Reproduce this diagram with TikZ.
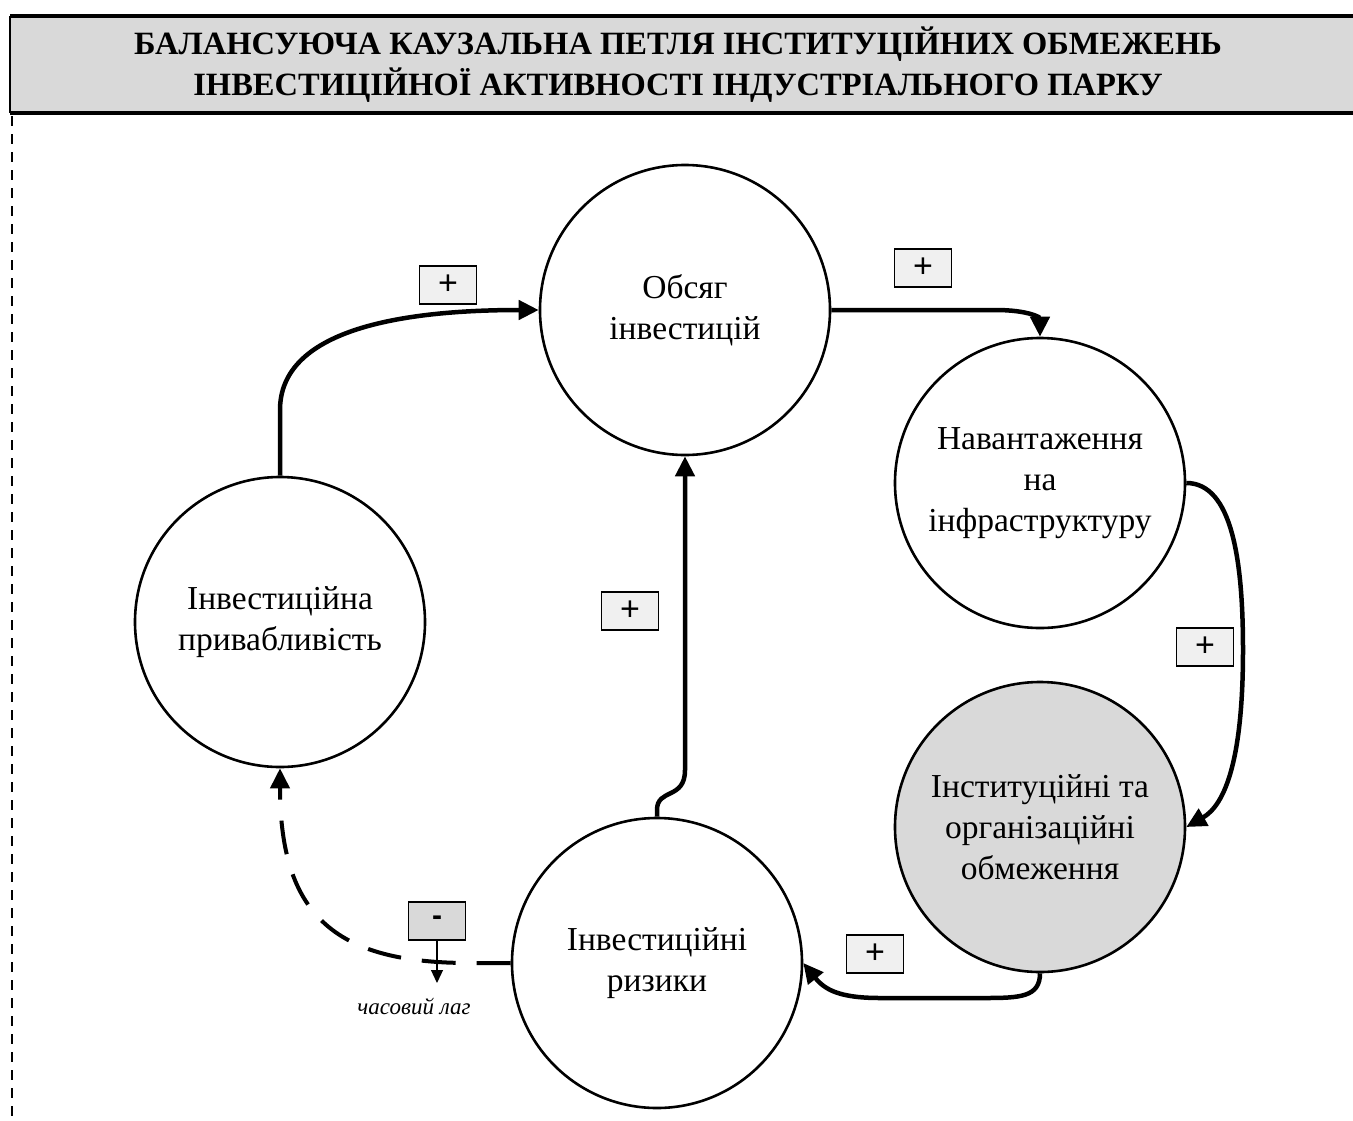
\documentclass[tikz,border=0pt]{standalone}
\usepackage{fontspec}
\setmainfont{Liberation Serif}
\newfontfamily\lsans{Liberation Sans}
\newfontfamily\titlefont{Liberation Serif}[BoldFont={Liberation Serif Bold}]
\usetikzlibrary{arrows.meta}
\definecolor{titlegray}{HTML}{D9D9D9}
\definecolor{instgray}{HTML}{D9D9D9}
\definecolor{plusfill}{HTML}{F0F0F0}
\begin{document}
\begin{tikzpicture}[x=1pt,y=-1pt,
  circ/.style={circle, draw, line width=2.6pt, minimum size=290pt, inner sep=0pt, align=center,
    font=\fontsize{33.5}{41}\selectfont},
  link/.style={line width=4.5pt, -{Triangle[length=20pt,width=19pt]}},
  dlink/.style={line width=4pt, dash pattern=on 34pt off 21pt, -{Triangle[length=20pt,width=19pt]}},
  signbox/.style={draw, line width=1.3pt, fill=plusfill, minimum width=57pt, minimum height=38pt, inner sep=0pt,
    font=\lsans\fontsize{34}{34}\selectfont},
  negbox/.style={signbox, fill=titlegray, font=\lsans\bfseries\fontsize{30}{30}\selectfont}
]
\useasboundingbox (0,0) rectangle (1353,1120);
% title bar
\fill[titlegray] (10,16) rectangle (1360,113);
\draw[line width=3.2pt] (10,16) -- (1360,16);
\draw[line width=3.2pt] (10,113) -- (1360,113);
\draw[line width=1.6pt] (10,16) -- (10,113);
\node[align=center, font=\titlefont\bfseries\fontsize{32.5}{41}\selectfont] (title) at (678,65)
  {БАЛАНСУЮЧА КАУЗАЛЬНА ПЕТЛЯ ІНСТИТУЦІЙНИХ ОБМЕЖЕНЬ\\ІНВЕСТИЦІЙНОЇ АКТИВНОСТІ ІНДУСТРІАЛЬНОГО ПАРКУ};
% dashed left border
\draw[line width=2pt, dash pattern=on 10pt off 8pt] (12,116) -- (12,1120);

% circles
\node[circ] (vol) at (685,310) {Обсяг\\інвестицій};
\node[circ] (nav) at (1040,483) {Навантаження\\на\\інфраструктуру};
\node[circ, fill=instgray] (inst) at (1040,827) {Інституційні та\\організаційні\\обмеження};
\node[circ] (risk) at (657,963) {Інвестиційні\\ризики};
\node[circ] (attr) at (280,622) {Інвестиційна\\привабливість};

% connectors
\draw[link] (attr.north) -- (280,410) .. controls (280,330) and (400,310) .. (vol.west);
\draw[link] (vol.east) -- (995,310) .. controls (1030,310) and (1040,318) .. (nav.north);
\draw[link] (nav.east) .. controls (1232,483) and (1243,560) .. (1243,650)
   .. controls (1243,760) and (1225,805) .. (inst.east);
\draw[link] (inst.south) .. controls (1040,997) and (1020,998) .. (985,998) -- (880,998)
   .. controls (840,998) and (825,990) .. (risk.east);
\draw[link] (risk.north) -- (657,810) .. controls (657,788) and (685,800) .. (685,770) -- (vol.south);
\draw[dlink] (risk.west) -- (470,963) .. controls (340,963) and (280,920) .. (attr.south);

% sign labels
\node[signbox] (s1) at (448,285) {+};
\node[signbox] (s2) at (923,268) {+};
\node[signbox] (s3) at (1205,647) {+};
\node[signbox] (s4) at (875,954) {+};
\node[signbox] (s5) at (630,611) {+};
\node[negbox] (s6) at (437,921) {-};
\coordinate (lagend) at (437,983);
\draw[line width=1.2pt, -{Triangle[length=13pt,width=12pt]}] (s6.south) -- (lagend);
\node[font=\itshape\fontsize{23}{23}\selectfont] (lag) at (414,1006) {часовий лаг};
\end{tikzpicture}
\end{document}
